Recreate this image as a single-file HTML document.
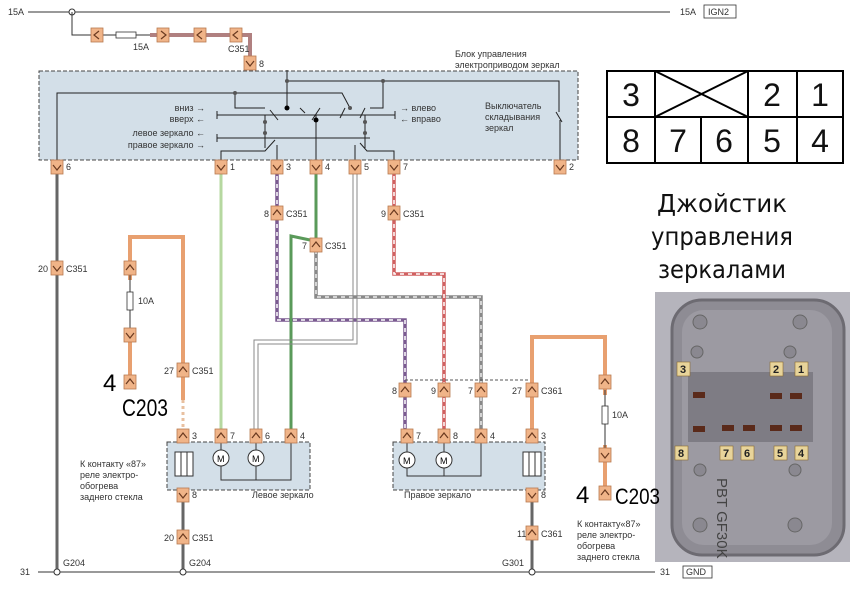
<!DOCTYPE html>
<html><head><meta charset="utf-8"><style>
html,body{margin:0;padding:0;background:#fff;}
svg{display:block;font-family:"Liberation Sans","DejaVu Sans",sans-serif;}
.t{font-size:9px;fill:#333;}
</style></head><body>
<svg width="850" height="593" viewBox="0 0 850 593" xmlns="http://www.w3.org/2000/svg">
<defs>
<g id="cu"><rect x="-6" y="-7" width="12" height="14" fill="#f0b488" stroke="#b87a50" stroke-width="0.8"/><polyline points="-4,2 0,-3 4,2" fill="none" stroke="#6a3a20" stroke-width="1.2"/></g>
<g id="cd"><rect x="-6" y="-7" width="12" height="14" fill="#f0b488" stroke="#b87a50" stroke-width="0.8"/><polyline points="-4,-2 0,3 4,-2" fill="none" stroke="#6a3a20" stroke-width="1.2"/></g>
<g id="cl"><rect x="-6" y="-7" width="12" height="14" fill="#f0b488" stroke="#b87a50" stroke-width="0.8"/><polyline points="2,-4 -3,0 2,4" fill="none" stroke="#6a3a20" stroke-width="1.2"/></g>
<g id="cr"><rect x="-6" y="-7" width="12" height="14" fill="#f0b488" stroke="#b87a50" stroke-width="0.8"/><polyline points="-2,-4 3,0 -2,4" fill="none" stroke="#6a3a20" stroke-width="1.2"/></g>
</defs>

<!-- top line -->
<text x="8" y="15" class="t">15A</text>
<line x1="28" y1="12" x2="670" y2="12" stroke="#333" stroke-width="1"/>
<circle cx="72" cy="12" r="3" fill="#fff" stroke="#333"/>
<text x="680" y="15" class="t">15A</text>
<rect x="704" y="5" width="32" height="13" fill="none" stroke="#333" stroke-width="0.8"/>
<text x="708" y="15" class="t">IGN2</text>
<polyline points="72,12 72,35 150,35" fill="none" stroke="#333"/>
<polyline points="150,35 250,35 250,62" fill="none" stroke="#b08080" stroke-width="4"/>
<rect x="116" y="32" width="20" height="6" fill="#fff" stroke="#333" stroke-width="0.8"/>
<text x="133" y="50" class="t">15A</text>
<use href="#cl" x="97" y="35"/><use href="#cr" x="163" y="35"/><use href="#cl" x="200" y="35"/><use href="#cl" x="236" y="35"/>
<text x="228" y="52" class="t">C351</text>
<use href="#cd" x="250" y="63"/><text x="259" y="67" class="t">8</text>

<!-- control block -->
<text x="455" y="57" class="t">Блок управления</text>
<text x="455" y="68" class="t">электроприводом зеркал</text>
<rect x="39" y="71" width="539" height="89" fill="#d3dfe8" stroke="#444" stroke-width="1" stroke-dasharray="4,2"/>
<g stroke="#222" stroke-width="1" fill="none">
<polyline points="287,70 287,108"/>
<polyline points="287,81 559,81 559,112"/>
<polyline points="560,120 560,160"/>
<line x1="556" y1="112" x2="562" y2="122"/>
<polyline points="383,81 383,108 370,108"/>
<polyline points="57,160 57,93 342,93 350,108"/>
<polyline points="235,93 235,108 265,108"/>
<line x1="217" y1="115" x2="395" y2="115"/><line x1="217" y1="111" x2="217" y2="119"/><line x1="395" y1="111" x2="395" y2="119"/>
<line x1="217" y1="138" x2="370" y2="138"/><line x1="217" y1="134" x2="217" y2="142"/>
<polyline points="221,160 221,151 265,151 275,140"/>
<polyline points="277,160 277,145"/>
<polyline points="316,160 316,115"/>
<polyline points="355,160 355,145"/>
<polyline points="394,160 394,151 367,151 360,143"/>
<line x1="270" y1="110" x2="278" y2="120"/><line x1="320" y1="108" x2="312" y2="120"/>
<line x1="345" y1="108" x2="340" y2="118"/><line x1="365" y1="108" x2="360" y2="118"/>
<line x1="300" y1="108" x2="305" y2="113"/>
<line x1="265" y1="115" x2="265" y2="148"/><line x1="365" y1="115" x2="365" y2="148"/>
</g>
<g fill="#555"><circle cx="287" cy="81" r="2"/><circle cx="383" cy="81" r="2"/><circle cx="235" cy="93" r="2"/><circle cx="350" cy="108" r="2"/><circle cx="265" cy="122" r="2"/><circle cx="265" cy="133" r="2"/><circle cx="365" cy="122" r="2"/><circle cx="365" cy="133" r="2"/></g>
<circle cx="287" cy="108" r="2.5" fill="#000"/><circle cx="316" cy="120" r="2.5" fill="#000"/>
<g class="t" text-anchor="end"><text x="205" y="111">вниз →</text><text x="205" y="122">вверх ←</text><text x="205" y="136">левое зеркало ←</text><text x="205" y="148">правое зеркало →</text></g>
<text x="400" y="111" class="t">→ влево</text><text x="400" y="122" class="t">← вправо</text>
<text x="485" y="109" class="t">Выключатель</text><text x="485" y="120" class="t">складывания</text><text x="485" y="131" class="t">зеркал</text>

<!-- wires -->
<line x1="57" y1="168" x2="57" y2="572" stroke="#666" stroke-width="3"/>
<line x1="221" y1="168" x2="221" y2="436" stroke="#b6d8a0" stroke-width="3"/>
<polyline points="277,168 277,320 405,320 405,436" fill="none" stroke="#7a5a90" stroke-width="3.5"/>
<polyline points="277,168 277,320 405,320 405,436" fill="none" stroke="#fff" stroke-width="1.5" stroke-dasharray="4,4"/>
<polyline points="316,168 316,245" fill="none" stroke="#5a9a5a" stroke-width="3"/>
<polyline points="310,240 291,236 291,436" fill="none" stroke="#5a9a5a" stroke-width="3"/>
<polyline points="316,250 316,297 481,297 481,436" fill="none" stroke="#888" stroke-width="3.5"/>
<polyline points="316,250 316,297 481,297 481,436" fill="none" stroke="#eee" stroke-width="1.5" stroke-dasharray="4,4"/>
<polyline points="353,168 353,340 254,340 254,436" fill="none" stroke="#888" stroke-width="1"/>
<polyline points="357,168 357,344 258,344 258,436" fill="none" stroke="#888" stroke-width="1"/>
<polyline points="394,168 394,274 444,274 444,436" fill="none" stroke="#d06060" stroke-width="3.5"/>
<polyline points="394,168 394,274 444,274 444,436" fill="none" stroke="#fff" stroke-width="1.5" stroke-dasharray="4,4"/>
<use href="#cd" x="57" y="167"/><text x="66" y="170" class="t">6</text>
<use href="#cd" x="221" y="167"/><text x="230" y="170" class="t">1</text>
<use href="#cd" x="277" y="167"/><text x="286" y="170" class="t">3</text>
<use href="#cd" x="316" y="167"/><text x="325" y="170" class="t">4</text>
<use href="#cd" x="355" y="167"/><text x="364" y="170" class="t">5</text>
<use href="#cd" x="394" y="167"/><text x="403" y="170" class="t">7</text>
<use href="#cd" x="560" y="167"/><text x="569" y="170" class="t">2</text>
<use href="#cd" x="57" y="268"/><text x="38" y="272" class="t">20</text><text x="66" y="272" class="t">C351</text>
<use href="#cu" x="277" y="213"/><text x="264" y="217" class="t">8</text><text x="286" y="217" class="t">C351</text>
<use href="#cu" x="316" y="245"/><text x="302" y="249" class="t">7</text><text x="325" y="249" class="t">C351</text>
<use href="#cu" x="394" y="213"/><text x="381" y="217" class="t">9</text><text x="403" y="217" class="t">C351</text>

<!-- left orange loop -->
<polyline points="130,382 130,237 183,237 183,400" fill="none" stroke="#e8a070" stroke-width="4"/>
<line x1="183" y1="400" x2="183" y2="436" stroke="#e8c0a0" stroke-width="3" stroke-dasharray="3,3"/>
<line x1="130" y1="280" x2="130" y2="330" stroke="#fff" stroke-width="5"/>
<line x1="130" y1="275" x2="130" y2="335" stroke="#333" stroke-width="1"/>
<rect x="127" y="292" width="6" height="18" fill="#fff" stroke="#333" stroke-width="0.8"/>
<text x="138" y="304" class="t">10A</text>
<use href="#cu" x="130" y="268"/><use href="#cd" x="130" y="335"/><use href="#cu" x="130" y="382"/>
<text x="103" y="391" font-size="24">4</text>
<text x="122" y="416" font-size="24" textLength="46" lengthAdjust="spacingAndGlyphs">C203</text>
<use href="#cu" x="183" y="370"/><text x="164" y="374" class="t">27</text><text x="192" y="374" class="t">C351</text>

<!-- left mirror -->
<rect x="167" y="442" width="143" height="48" fill="#d3dfe8" stroke="#444" stroke-dasharray="4,2"/>
<g stroke="#333" fill="none"><polyline points="221,436 221,480 291,480 291,436"/><line x1="256" y1="436" x2="256" y2="480"/></g>
<circle cx="221" cy="458" r="8" fill="#fff" stroke="#333"/><text x="217" y="462" font-size="9">M</text>
<circle cx="256" cy="458" r="8" fill="#fff" stroke="#333"/><text x="252" y="462" font-size="9">M</text>
<rect x="175" y="452" width="18" height="24" fill="#fff" stroke="#333"/><line x1="181" y1="452" x2="181" y2="476" stroke="#333"/><line x1="187" y1="452" x2="187" y2="476" stroke="#333"/>
<line x1="183" y1="490" x2="183" y2="572" stroke="#666" stroke-width="3"/>
<use href="#cu" x="183" y="436"/><text x="192" y="439" class="t">3</text>
<use href="#cu" x="221" y="436"/><text x="230" y="439" class="t">7</text>
<use href="#cu" x="256" y="436"/><text x="265" y="439" class="t">6</text>
<use href="#cu" x="291" y="436"/><text x="300" y="439" class="t">4</text>
<use href="#cd" x="183" y="495"/><text x="192" y="498" class="t">8</text>
<use href="#cu" x="183" y="537"/><text x="164" y="541" class="t">20</text><text x="192" y="541" class="t">C351</text>
<text x="252" y="498" class="t">Левое зеркало</text>
<text x="80" y="467" class="t">К контакту «87»</text><text x="80" y="478" class="t">реле электро-</text><text x="80" y="489" class="t">обогрева</text><text x="80" y="500" class="t">заднего стекла</text>

<!-- right mirror -->
<line x1="405" y1="380" x2="532" y2="380" stroke="#555" stroke-dasharray="3,2"/>
<polyline points="532,390 532,337 605,337 605,493" fill="none" stroke="#e8a070" stroke-width="4"/>
<line x1="605" y1="395" x2="605" y2="445" stroke="#fff" stroke-width="5"/>
<line x1="605" y1="390" x2="605" y2="450" stroke="#333"/>
<rect x="602" y="406" width="6" height="18" fill="#fff" stroke="#333" stroke-width="0.8"/>
<text x="612" y="418" class="t">10A</text>
<use href="#cu" x="605" y="382"/><use href="#cd" x="605" y="455"/><use href="#cu" x="605" y="493"/>
<text x="576" y="503" font-size="24">4</text>
<line x1="532" y1="390" x2="532" y2="436" stroke="#e8a070" stroke-width="4"/>
<rect x="393" y="442" width="152" height="48" fill="#d3dfe8" stroke="#444" stroke-dasharray="4,2"/>
<g stroke="#333" fill="none"><polyline points="407,436 407,476 481,476 481,436"/><line x1="444" y1="436" x2="444" y2="476"/></g>
<circle cx="407" cy="460" r="8" fill="#fff" stroke="#333"/><text x="403" y="464" font-size="9">M</text>
<circle cx="444" cy="460" r="8" fill="#fff" stroke="#333"/><text x="440" y="464" font-size="9">M</text>
<rect x="523" y="452" width="18" height="24" fill="#fff" stroke="#333"/><line x1="529" y1="452" x2="529" y2="476" stroke="#333"/><line x1="535" y1="452" x2="535" y2="476" stroke="#333"/>
<line x1="532" y1="490" x2="532" y2="572" stroke="#666" stroke-width="3"/>
<use href="#cu" x="405" y="390"/><text x="392" y="394" class="t">8</text>
<use href="#cu" x="444" y="390"/><text x="431" y="394" class="t">9</text>
<use href="#cu" x="481" y="390"/><text x="468" y="394" class="t">7</text>
<use href="#cu" x="532" y="390"/><text x="512" y="394" class="t">27</text><text x="541" y="394" class="t">C361</text>
<use href="#cu" x="407" y="436"/><text x="416" y="439" class="t">7</text>
<use href="#cu" x="444" y="436"/><text x="453" y="439" class="t">8</text>
<use href="#cu" x="481" y="436"/><text x="490" y="439" class="t">4</text>
<use href="#cu" x="532" y="436"/><text x="541" y="439" class="t">3</text>
<use href="#cd" x="532" y="495"/><text x="541" y="498" class="t">8</text>
<use href="#cu" x="532" y="533"/><text x="517" y="537" class="t">11</text><text x="541" y="537" class="t">C361</text>
<text x="404" y="498" class="t">Правое зеркало</text>
<text x="577" y="527" class="t">К контакту«87»</text><text x="577" y="538" class="t">реле электро-</text><text x="577" y="549" class="t">обогрева</text><text x="577" y="560" class="t">заднего стекла</text>

<!-- ground -->
<text x="20" y="575" class="t">31</text>
<line x1="38" y1="572" x2="655" y2="572" stroke="#333"/>
<circle cx="57" cy="572" r="3" fill="#fff" stroke="#333"/><circle cx="183" cy="572" r="3" fill="#fff" stroke="#333"/><circle cx="532" cy="572" r="3" fill="#fff" stroke="#333"/>
<text x="63" y="566" class="t">G204</text><text x="189" y="566" class="t">G204</text><text x="502" y="566" class="t">G301</text>
<text x="660" y="575" class="t">31</text>
<rect x="683" y="566" width="29" height="12" fill="none" stroke="#333" stroke-width="0.8"/><text x="686" y="575" class="t">GND</text>

<!-- pin table -->
<g stroke="#000" stroke-width="2" fill="#fff">
<rect x="607" y="71" width="236" height="92"/>
<line x1="607" y1="117" x2="843" y2="117"/>
<line x1="655" y1="71" x2="655" y2="163"/><line x1="748" y1="71" x2="748" y2="163"/><line x1="797" y1="71" x2="797" y2="163"/><line x1="701" y1="117" x2="701" y2="163"/>
<line x1="655" y1="71" x2="748" y2="117"/><line x1="655" y1="117" x2="748" y2="71"/>
</g>
<g font-size="32" text-anchor="middle" fill="#111">
<text x="631" y="106">3</text><text x="772" y="106">2</text><text x="820" y="106">1</text>
<text x="631" y="152">8</text><text x="678" y="152">7</text><text x="724" y="152">6</text><text x="772" y="152">5</text><text x="820" y="152">4</text>
</g>
<g font-size="25" text-anchor="middle" fill="#111" font-family="DejaVu Sans,sans-serif">
<text x="722" y="212" textLength="130" lengthAdjust="spacingAndGlyphs">Джойстик</text><text x="722" y="245" textLength="142" lengthAdjust="spacingAndGlyphs">управления</text><text x="722" y="278" textLength="128" lengthAdjust="spacingAndGlyphs">зеркалами</text>
</g>

<!-- photo -->
<rect x="655" y="292" width="195" height="270" fill="#b5b4bc"/>
<rect x="672" y="300" width="172" height="255" rx="30" fill="#8e8c94" stroke="#6d6b72" stroke-width="3"/>
<rect x="682" y="310" width="150" height="235" rx="22" fill="#9c9aa2"/>
<rect x="688" y="372" width="125" height="70" fill="#7e7c84"/>
<g fill="#8a8890" stroke="#666"><circle cx="700" cy="322" r="7"/><circle cx="800" cy="322" r="7"/><circle cx="697" cy="352" r="6"/><circle cx="790" cy="352" r="6"/><circle cx="700" cy="470" r="6"/><circle cx="795" cy="470" r="6"/><circle cx="700" cy="525" r="7"/><circle cx="795" cy="525" r="7"/></g>
<g fill="#5a2a1a"><rect x="693" y="392" width="12" height="6"/><rect x="770" y="393" width="12" height="6"/><rect x="790" y="393" width="12" height="6"/><rect x="693" y="426" width="12" height="6"/><rect x="722" y="425" width="12" height="6"/><rect x="743" y="425" width="12" height="6"/><rect x="770" y="425" width="12" height="6"/><rect x="790" y="425" width="12" height="6"/></g>
<g fill="#e8d49a" stroke="#8a6a30" stroke-width="0.6"><rect x="677" y="362" width="13" height="14"/><rect x="770" y="362" width="13" height="14"/><rect x="795" y="362" width="13" height="14"/><rect x="675" y="446" width="13" height="14"/><rect x="720" y="446" width="13" height="14"/><rect x="741" y="446" width="13" height="14"/><rect x="774" y="446" width="13" height="14"/><rect x="795" y="446" width="13" height="14"/></g>
<g font-size="11" font-weight="bold" fill="#222" text-anchor="middle"><text x="683" y="373">3</text><text x="776" y="373">2</text><text x="801" y="373">1</text><text x="681" y="457">8</text><text x="726" y="457">7</text><text x="747" y="457">6</text><text x="780" y="457">5</text><text x="801" y="457">4</text></g>
<text x="0" y="0" font-size="15" fill="#444" transform="translate(717 478) rotate(90)">PBT GF30K</text>
<text x="615" y="504" font-size="22" textLength="45" lengthAdjust="spacingAndGlyphs">C203</text>
</svg>
</body></html>
